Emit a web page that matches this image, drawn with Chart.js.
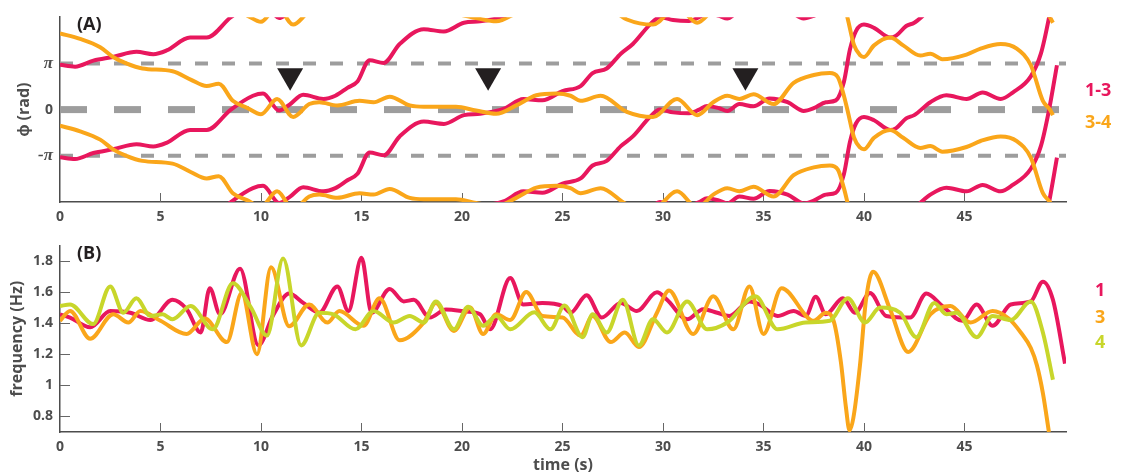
<!DOCTYPE html>
<html>
<head>
<meta charset="utf-8">
<script src="https://cdn.jsdelivr.net/npm/chart.js@4.4.1/dist/chart.umd.min.js"></script>
<style>
  body { margin: 0; background: #fff; }
  #fig { position: relative; width: 1125px; height: 475px; overflow: hidden; font-family: "Open Sans", sans-serif; }
  canvas { position: absolute; left: 0; }
  #phase-chart { top: 0; }
  #freq-chart { top: 230px; }
  .lbl { position: absolute; font-weight: 700; font-size: 18px; line-height: 20px; white-space: nowrap; }
</style>
</head>
<body>
<div id="fig">
  <canvas id="phase-chart" width="1125" height="230"></canvas>
  <canvas id="freq-chart" width="1125" height="245"></canvas>
  <div class="lbl" style="left:77px;top:13px;color:#231f20">(A)</div>
  <div class="lbl" style="left:77px;top:242px;color:#231f20">(B)</div>
  <div class="lbl" style="left:1085px;top:79px;color:#e8175d">1-3</div>
  <div class="lbl" style="left:1085px;top:111px;color:#faa61a">3-4</div>
  <div class="lbl" style="left:1095px;top:279px;color:#e8175d">1</div>
  <div class="lbl" style="left:1095px;top:306px;color:#faa61a">3</div>
  <div class="lbl" style="left:1095px;top:331px;color:#c8d62b">4</div>
</div>
<script>
const timeTicks = [0, 5, 10, 15, 20, 25, 30, 35, 40, 45];
const phaseTicks = [-1, 0, 1];
const phaseTickLabels = ["-π", "0", "π"];
const freqTicks = [0.8, 1, 1.2, 1.4, 1.6, 1.8];
const freqTickLabels = ["0.8", "1", "1.2", "1.4", "1.6", "1.8"];

// unwrapped phase differences, in units of pi
const t13 = [0, 0.75, 1.66, 2.64, 3.81, 4.64, 5.3, 6.47, 7.3, 8.5, 9.6, 10.1, 10.9, 11.4, 12.1, 13.1, 13.7, 14.3, 14.8, 15.4,
  16.1, 16.9, 18.1, 19.1, 20.1, 20.9, 22.1, 23.05, 24.0, 25.0, 25.9, 26.5, 27.2, 27.9, 28.5, 29.35, 29.85, 30.5, 31.3, 31.8,
  32.2, 32.8, 33.2, 33.8, 34.5, 35.3, 36.2, 36.8, 37.0, 37.5, 38.1, 38.6, 39.0, 39.3, 39.6, 40.0, 40.5, 41.3, 41.6, 42.1,
  42.5, 43.3, 44.1, 45.1, 45.9, 46.8, 47.4, 48.3, 48.8, 49.2, 49.6];
const phase13 = [0.97, 0.93, 1.06, 1.14, 1.25, 1.2, 1.28, 1.56, 1.56, 2.0, 2.3, 2.35, 1.98, 2.1, 2.32, 2.23, 2.3, 2.47, 2.61, 3.07,
  3.01, 3.42, 3.74, 3.69, 3.88, 3.91, 4.02, 4.23, 4.2, 4.4, 4.51, 4.79, 4.89, 5.21, 5.42, 5.84, 6.0, 5.94, 5.92, 6.0,
  6.08, 6.03, 5.97, 6.12, 6.07, 6.24, 6.16, 6.0, 5.97, 6.03, 6.16, 6.2, 6.6, 7.3, 7.7, 7.84, 7.77, 7.56, 7.6, 7.81,
  7.88, 8.16, 8.31, 8.23, 8.37, 8.23, 8.37, 8.72, 9.21, 9.98, 10.96];

const t34 = [0, 1, 2, 2.64, 3.3, 4.1, 5.6, 6.5, 7.3, 7.9, 8.6, 9.3, 10.0, 10.8, 11.6, 12.4, 12.9, 13.8, 14.9, 15.6,
  16.4, 17.4, 18.1, 19.7, 20.7, 21.7, 22.7, 23.7, 24.7, 25.4, 25.9, 26.9, 28.2, 29.5, 30.7, 31.7, 32.5, 33.2, 33.8, 34.5,
  35.5, 36.5, 37.5, 38.3, 38.7, 39.0, 39.2, 39.5, 39.8, 40.0, 40.5, 41.3, 41.95, 42.8, 43.3, 43.9, 45.1, 45.8, 46.8, 47.6,
  48.3, 48.9, 49.25, 49.4];
const phase34 = [1.65, 1.53, 1.35, 1.14, 1.0, 0.89, 0.83, 0.65, 0.51, 0.56, 0.19, 0.04, -0.1, 0.23, -0.16, 0.12, 0.16, 0.09, 0.19, 0.16,
  0.28, 0.09, 0.06, 0.06, -0.02, -0.09, 0.09, 0.31, 0.35, 0.3, 0.19, 0.3, -0.05, -0.16, 0.23, -0.12, 0.16, 0.3, 0.23, 0.33,
  0.12, 0.58, 0.75, 0.79, 0.7, 0.3, -0.05, -0.6, -0.82, -0.86, -0.61, -0.44, -0.61, -0.83, -0.79, -0.91, -0.81, -0.68, -0.58, -0.68,
  -1.04, -1.81, -2.0, -2.12];

const refLevels = [1, 0, -1];
const markerTimes = [11.45, 21.3, 34.1];
const markerLevel = 0.73;

// frequency (Hz)
const tF1 = [0, 0.5, 1.5, 2.5, 3.5, 4.5, 5.6, 6.3, 7.0, 7.45, 7.96, 8.96, 9.87, 10.6, 11.4, 12.1, 12.9, 13.8, 14.35, 15.0,
  15.5, 16.4, 17.1, 17.6, 18.4, 19.2, 20.2, 20.9, 21.4, 22.4, 23.05, 24.0, 25.0, 25.4, 26.2, 26.95, 27.9, 28.7, 29.7, 30.2,
  31.2, 32.0, 32.7, 33.3, 34.3, 34.8, 35.7, 36.5, 37.1, 37.6, 38.1, 38.95, 39.55, 40.3, 41.1, 42.3, 43.1, 43.9, 44.9, 45.6,
  46.4, 47.3, 48.3, 48.9, 49.4, 50.0];
const freq1 = [1.457, 1.436, 1.373, 1.478, 1.467, 1.42, 1.55, 1.49, 1.34, 1.625, 1.457, 1.75, 1.257, 1.45, 1.59, 1.53, 1.467, 1.636, 1.478, 1.82,
  1.467, 1.62, 1.54, 1.55, 1.436, 1.488, 1.475, 1.457, 1.36, 1.69, 1.52, 1.53, 1.51, 1.467, 1.58, 1.436, 1.53, 1.478, 1.598, 1.55,
  1.425, 1.49, 1.467, 1.446, 1.54, 1.52, 1.446, 1.478, 1.446, 1.57, 1.457, 1.56, 1.467, 1.594, 1.446, 1.436, 1.59, 1.51, 1.415, 1.52,
  1.383, 1.52, 1.54, 1.667, 1.55, 1.14];

const tF3 = [0, 0.5, 1.5, 2.65, 3.4, 4.0, 5.0, 6.3, 7.2, 8.3, 9.04, 9.8, 10.5, 11.4, 12.4, 13.3, 13.9, 15.1, 15.9, 16.9,
  18.1, 18.7, 19.6, 20.4, 21.05, 21.7, 22.4, 23.2, 24.0, 25.0, 25.9, 26.5, 27.4, 28.1, 28.8, 29.7, 30.3, 31.5, 32.5, 33.5,
  34.3, 35.0, 35.9, 37.5, 38.1, 38.5, 38.85, 39.1, 39.28, 39.47, 39.8, 40.1, 40.45, 41.3, 42.2, 43.3, 44.3, 45.3, 46.4, 47.2,
  47.8, 48.3, 48.6, 48.9, 49.2];
const freq3 = [1.415, 1.478, 1.30, 1.457, 1.404, 1.478, 1.415, 1.33, 1.43, 1.278, 1.594, 1.20, 1.76, 1.38, 1.52, 1.404, 1.478, 1.383, 1.56, 1.29,
  1.404, 1.53, 1.35, 1.50, 1.33, 1.457, 1.42, 1.60, 1.446, 1.436, 1.32, 1.446, 1.278, 1.34, 1.246, 1.467, 1.61, 1.33, 1.573, 1.36,
  1.636, 1.33, 1.625, 1.415, 1.467, 1.41, 1.15, 0.86, 0.71, 0.79, 1.13, 1.55, 1.73, 1.488, 1.215, 1.457, 1.51, 1.404, 1.478, 1.43,
  1.34, 1.24, 1.13, 0.95, 0.70];

const tF4 = [0, 0.5, 1.65, 2.5, 3.15, 3.8, 4.5, 5.1, 5.6, 6.5, 7.6, 8.6, 9.5, 10.3, 11.1, 12.0, 12.9, 13.6, 14.7, 15.6,
  16.6, 17.4, 18.1, 18.7, 19.6, 20.3, 21.05, 21.7, 22.4, 23.6, 24.4, 25.1, 26.0, 26.5, 27.2, 28.0, 28.8, 29.5, 30.2, 31.2,
  32.2, 33.2, 34.6, 35.7, 37.1, 38.3, 39.2, 40.05, 40.8, 41.8, 42.6, 43.5, 44.1, 44.6, 45.6, 46.4, 47.3, 48.3, 48.9, 49.4];
const freq4 = [1.51, 1.52, 1.394, 1.636, 1.467, 1.56, 1.446, 1.457, 1.425, 1.51, 1.36, 1.657, 1.50, 1.32, 1.815, 1.257, 1.467, 1.457, 1.36, 1.478,
  1.404, 1.446, 1.404, 1.54, 1.36, 1.505, 1.383, 1.446, 1.36, 1.47, 1.36, 1.513, 1.31, 1.457, 1.34, 1.55, 1.257, 1.425, 1.34, 1.54,
  1.36, 1.404, 1.573, 1.36, 1.404, 1.415, 1.56, 1.404, 1.50, 1.467, 1.31, 1.53, 1.457, 1.467, 1.31, 1.446, 1.42, 1.54, 1.34, 1.036];

const RED = "#e8175d";
const ORANGE = "#faa61a";
const GREEN = "#c8d62b";
const DASH = "#9d9d9d";
const AXIS = "#4d4d4d";
const X_END = 50.05;

Chart.defaults.font.family = "'Open Sans', sans-serif";

const toPoints = (ts, vs, shift = 0) => ts.map((t, i) => ({ x: t, y: vs[i] + shift }));

// phase is shown modulo 2pi: draw every shifted copy that lands in [-2pi, 2pi]
function wrappedCopies(ts, vs, color, order) {
  const lo = Math.min(...vs);
  const hi = Math.max(...vs);
  const sets = [];
  for (let k = Math.ceil((-2 - hi) / 2); k <= Math.floor((2 - lo) / 2); k++) {
    sets.push({
      data: toPoints(ts, vs, 2 * k),
      borderColor: color,
      borderWidth: 4,
      pointRadius: 0,
      cubicInterpolationMode: "monotone",
      clip: 0,
      order,
    });
  }
  return sets;
}

function freqLine(ts, vs, color, order) {
  return {
    data: toPoints(ts, vs),
    borderColor: color,
    borderWidth: 4,
    pointRadius: 0,
    cubicInterpolationMode: "monotone",
    clip: 0,
    order,
  };
}

// matlab style ticks pointing into the plot
const inwardTicks = {
  id: "inwardTicks",
  beforeDatasetsDraw(chart) {
    const { ctx, chartArea: a, scales: { x, y } } = chart;
    ctx.save();
    ctx.strokeStyle = "#666";
    ctx.lineWidth = 1;
    ctx.beginPath();
    x.ticks.forEach((t) => {
      if (t.value === 0) return;
      const px = Math.round(x.getPixelForValue(t.value)) + 0.5;
      ctx.moveTo(px, a.bottom);
      ctx.lineTo(px, a.bottom - 9);
    });
    y.ticks.forEach((t) => {
      const py = Math.round(y.getPixelForValue(t.value)) + 0.5;
      ctx.moveTo(a.left, py);
      ctx.lineTo(a.left + 10, py);
    });
    ctx.stroke();
    ctx.restore();
  },
};

const tickFont = { weight: "bold", size: 14 };
const titleFont = { weight: "bold", size: 16 };

function timeAxis(height, withTitle) {
  return {
    type: "linear",
    min: 0,
    max: X_END,
    grid: { display: false, drawTicks: false },
    border: { color: AXIS, width: 1.5 },
    afterBuildTicks: (s) => { s.ticks = timeTicks.map((v) => ({ value: v })); },
    afterFit: (s) => { s.height = height; },
    ticks: { color: AXIS, font: tickFont, padding: 7, maxRotation: 0, autoSkip: false },
    title: {
      display: withTitle,
      text: "time (s)",
      color: AXIS,
      font: titleFont,
      padding: { top: 0, bottom: 0 },
    },
  };
}

function valueAxis(min, max, ticks, labels, title, titlePad, font = tickFont) {
  return {
    min,
    max,
    grid: { display: false, drawTicks: false },
    border: { color: AXIS, width: 1.5 },
    afterBuildTicks: (s) => { s.ticks = ticks.map((v) => ({ value: v })); },
    afterFit: (s) => { s.width = 60; },
    ticks: {
      color: AXIS,
      font,
      padding: 7,
      autoSkip: false,
      callback: (v) => labels[ticks.indexOf(v)],
    },
    title: { display: true, text: title, color: AXIS, font: titleFont, padding: { top: titlePad, bottom: 0 } },
  };
}

// pi labels look like a serif italic glyph in the original
const phaseTickFont = (c) =>
  c.tick && c.tick.value !== 0
    ? { family: "'Liberation Serif', serif", style: "italic", weight: "bold", size: 17 }
    : tickFont;

const baseOptions = {
  responsive: false,
  animation: false,
  events: [],
  layout: { padding: { left: 0, right: 59, top: 12, bottom: 0 } },
  plugins: { legend: { display: false }, tooltip: { enabled: false } },
};

const refLineSets = refLevels.map((level) => ({
  data: [{ x: 0, y: level }, { x: X_END, y: level }],
  borderColor: DASH,
  borderWidth: level === 0 ? 7 : 4,
  borderDash: level === 0 ? [27, 27] : [13, 14],
  borderCapStyle: "butt",
  pointRadius: 0,
  order: 9,
}));

const markerSet = {
  data: markerTimes.map((t) => ({ x: t, y: markerLevel })),
  showLine: false,
  pointStyle: "triangle",
  pointRotation: 180,
  pointRadius: 15,
  pointBackgroundColor: "#231f20",
  pointBorderWidth: 0,
  order: 0,
};

const phaseChart = new Chart(document.querySelector("#phase-chart"), {
  type: "line",
  data: {
    datasets: [
      ...refLineSets,
      ...wrappedCopies(t13, phase13, RED, 3),
      ...wrappedCopies(t34, phase34, ORANGE, 2),
      markerSet,
    ],
  },
  options: {
    ...baseOptions,
    scales: {
      x: timeAxis(28, false),
      y: valueAxis(-2, 2, phaseTicks, phaseTickLabels, "ϕ (rad)", 15, phaseTickFont),
    },
  },
  plugins: [inwardTicks],
});

const freqChart = new Chart(document.querySelector("#freq-chart"), {
  type: "line",
  data: {
    datasets: [
      freqLine(tF1, freq1, RED, 3),
      freqLine(tF3, freq3, ORANGE, 2),
      freqLine(tF4, freq4, GREEN, 1),
    ],
  },
  options: {
    ...baseOptions,
    scales: {
      x: timeAxis(43, true),
      y: valueAxis(0.7, 1.9, freqTicks, freqTickLabels, "frequency (Hz)", 8),
    },
  },
  plugins: [inwardTicks],
});
</script>
</body>
</html>
